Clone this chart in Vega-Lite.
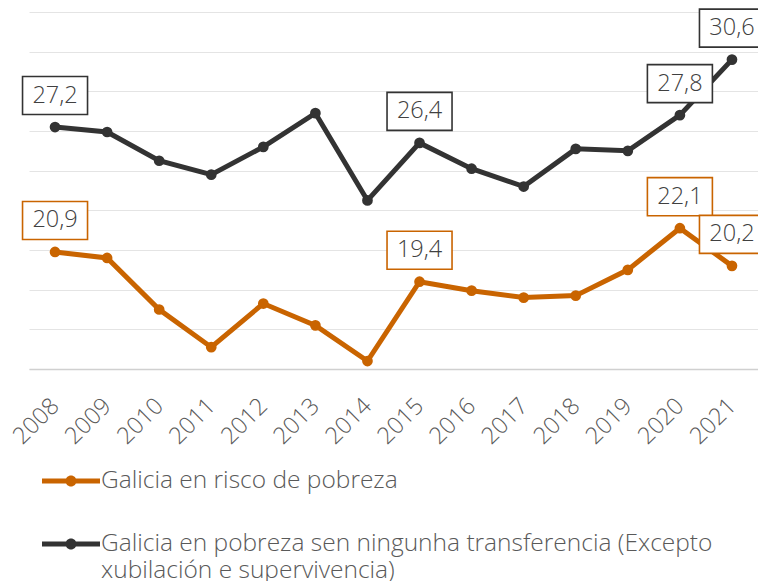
{
  "$schema": "https://vega.github.io/schema/vega-lite/v6.json",
  "width": 729,
  "height": 357,
  "autosize": {"type": "none"},
  "padding": {"left": 29, "top": 12, "right": 0, "bottom": 212},
  "background": "white",
  "config": {
    "view": {"stroke": null},
    "font": "Open Sans",
    "locale": {"number": {"decimal": ",", "thousands": ".", "grouping": [3], "currency": ["", " €"]}}
  },
  "data": {
    "values": [
      {"ano": "2008", "serie": "Galicia en risco de pobreza", "valor": 20.9, "etiqueta": true},
      {"ano": "2009", "serie": "Galicia en risco de pobreza", "valor": 20.6, "etiqueta": false},
      {"ano": "2010", "serie": "Galicia en risco de pobreza", "valor": 18.0, "etiqueta": false},
      {"ano": "2011", "serie": "Galicia en risco de pobreza", "valor": 16.1, "etiqueta": false},
      {"ano": "2012", "serie": "Galicia en risco de pobreza", "valor": 18.3, "etiqueta": false},
      {"ano": "2013", "serie": "Galicia en risco de pobreza", "valor": 17.2, "etiqueta": false},
      {"ano": "2014", "serie": "Galicia en risco de pobreza", "valor": 15.4, "etiqueta": false},
      {"ano": "2015", "serie": "Galicia en risco de pobreza", "valor": 19.4, "etiqueta": true},
      {"ano": "2016", "serie": "Galicia en risco de pobreza", "valor": 18.95, "etiqueta": false},
      {"ano": "2017", "serie": "Galicia en risco de pobreza", "valor": 18.6, "etiqueta": false},
      {"ano": "2018", "serie": "Galicia en risco de pobreza", "valor": 18.7, "etiqueta": false},
      {"ano": "2019", "serie": "Galicia en risco de pobreza", "valor": 20.0, "etiqueta": false},
      {"ano": "2020", "serie": "Galicia en risco de pobreza", "valor": 22.1, "etiqueta": true},
      {"ano": "2021", "serie": "Galicia en risco de pobreza", "valor": 20.2, "etiqueta": true},
      {"ano": "2008", "serie": "Galicia en pobreza sen ningunha transferencia (Excepto xubilación e supervivencia)", "valor": 27.2, "etiqueta": true},
      {"ano": "2009", "serie": "Galicia en pobreza sen ningunha transferencia (Excepto xubilación e supervivencia)", "valor": 26.95, "etiqueta": false},
      {"ano": "2010", "serie": "Galicia en pobreza sen ningunha transferencia (Excepto xubilación e supervivencia)", "valor": 25.5, "etiqueta": false},
      {"ano": "2011", "serie": "Galicia en pobreza sen ningunha transferencia (Excepto xubilación e supervivencia)", "valor": 24.8, "etiqueta": false},
      {"ano": "2012", "serie": "Galicia en pobreza sen ningunha transferencia (Excepto xubilación e supervivencia)", "valor": 26.2, "etiqueta": false},
      {"ano": "2013", "serie": "Galicia en pobreza sen ningunha transferencia (Excepto xubilación e supervivencia)", "valor": 27.9, "etiqueta": false},
      {"ano": "2014", "serie": "Galicia en pobreza sen ningunha transferencia (Excepto xubilación e supervivencia)", "valor": 23.5, "etiqueta": false},
      {"ano": "2015", "serie": "Galicia en pobreza sen ningunha transferencia (Excepto xubilación e supervivencia)", "valor": 26.4, "etiqueta": true},
      {"ano": "2016", "serie": "Galicia en pobreza sen ningunha transferencia (Excepto xubilación e supervivencia)", "valor": 25.1, "etiqueta": false},
      {"ano": "2017", "serie": "Galicia en pobreza sen ningunha transferencia (Excepto xubilación e supervivencia)", "valor": 24.2, "etiqueta": false},
      {"ano": "2018", "serie": "Galicia en pobreza sen ningunha transferencia (Excepto xubilación e supervivencia)", "valor": 26.1, "etiqueta": false},
      {"ano": "2019", "serie": "Galicia en pobreza sen ningunha transferencia (Excepto xubilación e supervivencia)", "valor": 26.0, "etiqueta": false},
      {"ano": "2020", "serie": "Galicia en pobreza sen ningunha transferencia (Excepto xubilación e supervivencia)", "valor": 27.8, "etiqueta": true},
      {"ano": "2021", "serie": "Galicia en pobreza sen ningunha transferencia (Excepto xubilación e supervivencia)", "valor": 30.6, "etiqueta": true}
    ]
  },
  "encoding": {
    "x": {
      "field": "ano",
      "type": "ordinal",
      "scale": {"type": "point", "padding": 0.5},
      "axis": {
        "title": null,
        "labelAngle": -45,
        "labelAlign": "right",
        "labelBaseline": "middle",
        "labelFontSize": 23.5,
        "labelFontWeight": 300,
        "labelColor": "#595959",
        "labelPadding": 33,
        "labelOverlap": false,
        "ticks": false,
        "grid": false,
        "domainColor": "#d0d0d0",
        "domainWidth": 1.5
      }
    },
    "y": {
      "field": "valor",
      "type": "quantitative",
      "scale": {"domain": [15, 33], "nice": false, "zero": false},
      "axis": {
        "title": null,
        "labels": false,
        "ticks": false,
        "domain": false,
        "grid": true,
        "gridColor": "#e4e4e4",
        "gridWidth": 1,
        "values": [15, 17, 19, 21, 23, 25, 27, 29, 31, 33]
      }
    }
  },
  "layer": [
    {
      "mark": {"type": "line", "strokeWidth": 5},
      "encoding": {
        "color": {
          "field": "serie",
          "type": "nominal",
          "scale": {
            "domain": ["Galicia en risco de pobreza", "Galicia en pobreza sen ningunha transferencia (Excepto xubilación e supervivencia)"],
            "range": ["#c96400", "#333333"]
          },
          "legend": {
            "orient": "none",
            "legendX": 13,
            "legendY": 440,
            "direction": "vertical",
            "title": null,
            "padding": 0,
            "symbolType": "M-1,-0.09L1,-0.09L1,0.09L-1,0.09Z M-0.19,0A0.19,0.19 0 1,1 0.19,0A0.19,0.19 0 1,1 -0.19,0Z",
            "symbolSize": 3364,
            "symbolStrokeWidth": 0,
            "labelFontSize": 24.5,
            "labelFontWeight": 300,
            "labelColor": "#595959",
            "labelOffset": 1,
            "labelLimit": 800,
            "rowPadding": 22,
            "labelExpr": "datum.label == 'Galicia en risco de pobreza' ? datum.label : ['Galicia en pobreza sen ningunha transferencia (Excepto', 'xubilación e supervivencia)']",
            "encode": {
              "symbols": {"update": {"fill": {"scale": "color", "field": "value"}, "stroke": {"value": "transparent"}, "opacity": {"value": 1}}},
              "labels": {"update": {"lineHeight": {"value": 27}}}
            }
          }
        }
      }
    },
    {
      "mark": {"type": "point", "filled": true, "size": 115, "opacity": 1},
      "encoding": {
        "color": {"field": "serie", "type": "nominal"}
      }
    },
    {
      "transform": [{"filter": "datum.etiqueta"}],
      "mark": {
        "type": "point",
        "shape": "M-1,-0.585L1,-0.585L1,0.585L-1,0.585Z",
        "size": 4225,
        "filled": true,
        "fill": "white",
        "fillOpacity": 1,
        "opacity": 1,
        "strokeWidth": 1.6
      },
      "encoding": {
        "stroke": {
          "field": "serie",
          "type": "nominal",
          "scale": {
            "domain": ["Galicia en risco de pobreza", "Galicia en pobreza sen ningunha transferencia (Excepto xubilación e supervivencia)"],
            "range": ["#c96400", "#333333"]
          },
          "legend": null
        },
        "yOffset": {"value": -31.5}
      }
    },
    {
      "transform": [{"filter": "datum.etiqueta"}],
      "mark": {"type": "text", "fontSize": 23.5, "fontWeight": 300, "color": "#404040", "baseline": "middle", "align": "center"},
      "encoding": {
        "text": {"field": "valor", "type": "quantitative", "format": ".1f"},
        "yOffset": {"value": -31.5}
      }
    }
  ]
}
